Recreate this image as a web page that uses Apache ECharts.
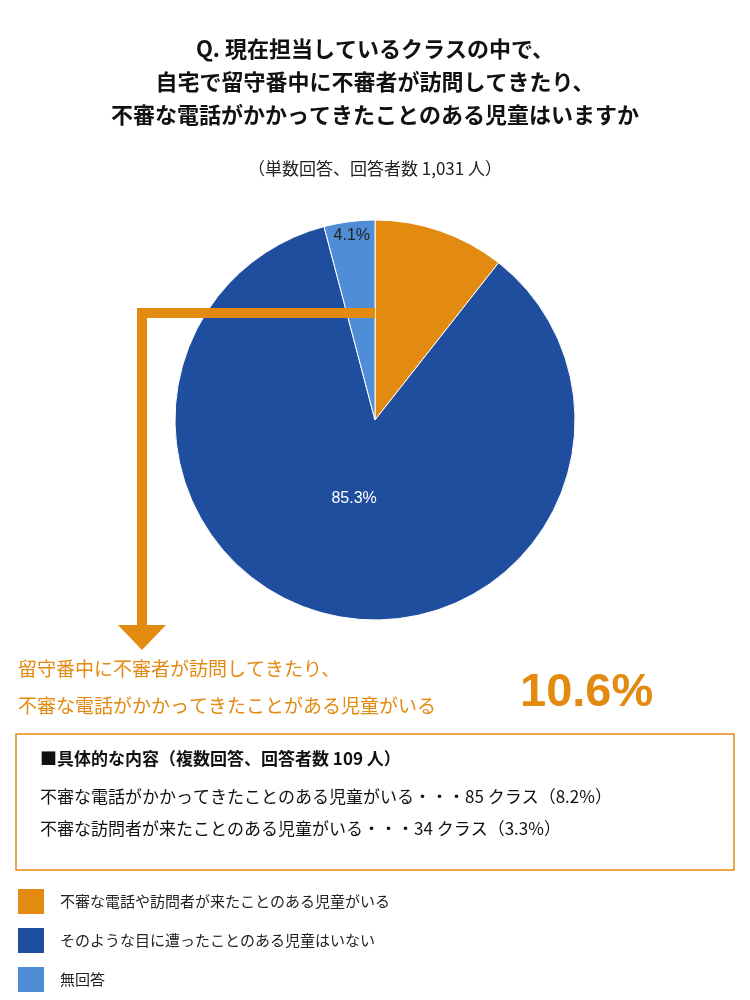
<!DOCTYPE html>
<html><head><meta charset="utf-8">
<script src="https://cdn.jsdelivr.net/npm/echarts@6/dist/echarts.min.js"></script>
<style>html,body{margin:0;padding:0;background:#fff}#c{width:750px;height:1000px}</style>
</head><body><div id="c"></div>
<script>
const categories = ['不審な電話や訪問者が来たことのある児童がいる','そのような目に遭ったことのある児童はいない','無回答'];
const values = [10.6, 85.3, 4.1];
const colors = ['#E38A10','#1F4E9F','#4F8ED6'];
const F = '"Noto Sans CJK JP", sans-serif';
const chart = echarts.init(document.getElementById('c'));
chart.setOption({
  animation:false,
  color: colors,
  legend:{orient:'vertical', left:16, top:887, height:120, itemWidth:28, itemHeight:27, itemGap:10, icon:'rect', padding:0,
    textStyle:{fontFamily:F,fontSize:15,color:'#222',padding:[0,0,0,10]}, selectedMode:false},
  series:[{
    type:'pie', center:[375,420], radius:[0,200], startAngle:90, clockwise:true,
    itemStyle:{borderColor:'#fff',borderWidth:1},
    label:{show:true, position:'inside', color:'#fff', fontFamily:'"Liberation Sans", Arial, sans-serif', fontSize:16,
      formatter:p=> p.dataIndex===0 ? '' : p.value.toFixed(1)+'%'},
    labelLayout:function(p){ if(p.dataIndex===2) return {dx:-10,dy:-82}; if(p.dataIndex===1) return {dy:-22}; return {}; },
    data: categories.map((n,i)=>({name:n, value:values[i],
      label: i===2 ? {color:'#222'} : undefined}))
  }],
  graphic:[
    {type:'text', x:375, y:32, style:{text:'Q. 現在担当しているクラスの中で、\n自宅で留守番中に不審者が訪問してきたり、\n不審な電話がかかってきたことのある児童はいますか', align:'center', fill:'#111', font:'bold 22px '+F, lineHeight:33}},
    {type:'text', x:375, y:160, style:{text:'（単数回答、回答者数 1,031 人）', align:'center', fill:'#222', font:'17px '+F}},
    {type:'polyline', shape:{points:[[375,313],[142,313],[142,628]]}, style:{stroke:'#E38A10',lineWidth:10,fill:null}, z:10},
    {type:'polygon', shape:{points:[[118,625],[166,625],[142,650]]}, style:{fill:'#E38A10'}, z:10},
    {type:'text', left:18, top:650, style:{text:'留守番中に不審者が訪問してきたり、\n不審な電話がかかってきたことがある児童がいる', fill:'#E38A10', font:'19px '+F, lineHeight:37}},
    {type:'text', left:520, top:670, style:{text:'10.6%', fill:'#E38A10', font:'bold 47px "Liberation Sans", Arial, sans-serif'}},
    {type:'rect', shape:{x:16,y:734,width:718,height:136}, style:{fill:'none',stroke:'#E38A10',lineWidth:1.5}},
    {type:'text', left:40, top:750, style:{text:'■具体的な内容（複数回答、回答者数 109 人）', fill:'#111', font:'bold 17px '+F}},
    {type:'text', left:40, top:788, style:{text:'不審な電話がかかってきたことのある児童がいる・・・85 クラス（8.2%）', fill:'#111', font:'17px '+F}},
    {type:'text', left:40, top:820, style:{text:'不審な訪問者が来たことのある児童がいる・・・34 クラス（3.3%）', fill:'#111', font:'17px '+F}}
  ]
});
</script></body></html>
